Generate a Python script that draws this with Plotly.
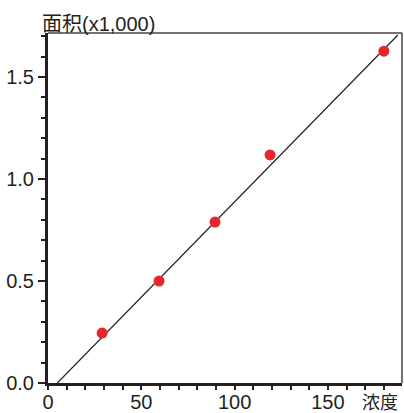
import plotly.graph_objects as go

# data
conc = [29, 59.5, 89.5, 119, 180]
area = [0.245, 0.50, 0.789, 1.118, 1.627]
fit_x = [5, 187.5]
fit_y = [0.0, 1.706]
x_ticks = [0, 50, 100, 150]
y_ticks = [0.0, 0.5, 1.0, 1.5]
y_tick_labels = ["0.0", "0.5", "1.0", "1.5"]

FONT = "Liberation Sans, Arial, sans-serif"
CJK = "Noto Sans CJK SC, sans-serif"
INK = "#231f20"

fig = go.Figure()
fig.add_trace(go.Scatter(x=fit_x, y=fit_y, mode="lines",
                         line=dict(color=INK, width=1.2), showlegend=False,
                         hoverinfo="skip"))
fig.add_trace(go.Scatter(x=conc, y=area, mode="markers",
                         marker=dict(color="#e8262a", size=11, line=dict(width=0)),
                         showlegend=False))

fig.update_layout(
    width=404, height=413,
    margin=dict(l=48, r=2, t=33, b=30),
    plot_bgcolor="white", paper_bgcolor="white",
    font=dict(family=FONT, size=20, color=INK),
    xaxis=dict(range=[0, 189.7], tickvals=x_ticks, ticks="outside", ticklen=4,
               tickwidth=1.5, tickcolor=INK, showline=True, linewidth=3,
               linecolor=INK, showgrid=False, zeroline=False, automargin=False,
               ticklabelstandoff=-5,
               minor=dict(dtick=10, tick0=0, ticks="outside", ticklen=4,
                          tickwidth=1.5, tickcolor=INK),
               tickfont=dict(size=20, family=FONT, color=INK)),
    yaxis=dict(range=[0, 1.716], tickvals=y_ticks, ticktext=y_tick_labels,
               ticks="outside", ticklen=7, tickwidth=1.5, tickcolor=INK,
               showline=True, linewidth=3, linecolor=INK, showgrid=False,
               zeroline=False, automargin=False,
               minor=dict(dtick=0.1, tick0=0, ticks="outside", ticklen=4,
                          tickwidth=1.5, tickcolor=INK),
               tickfont=dict(size=20, family=FONT, color=INK)),
    shapes=[
        dict(type="line", xref="paper", yref="paper", x0=0, x1=1, y0=1, y1=1,
             line=dict(color="#444", width=1.5)),
        dict(type="line", xref="paper", yref="paper", x0=1, x1=1, y0=0, y1=1,
             line=dict(color="#444", width=1.5)),
    ],
    annotations=[
        dict(text="面积<span style='font-family:Liberation Sans, Arial'>(x1,000)</span>",
             xref="paper", yref="paper", x=-0.0226, y=1.031,
             xanchor="left", yanchor="middle", showarrow=False,
             font=dict(family=CJK, size=20, color=INK)),
        dict(text="浓度", xref="paper", yref="paper", x=0.994, y=-0.05,
             xanchor="right", yanchor="middle", showarrow=False,
             font=dict(family=CJK, size=18, color=INK)),
    ],
)

fig.write_html("out.html", config={"displayModeBar": False},
               post_script="document.body.style.margin='0';document.body.style.overflow='hidden';")
